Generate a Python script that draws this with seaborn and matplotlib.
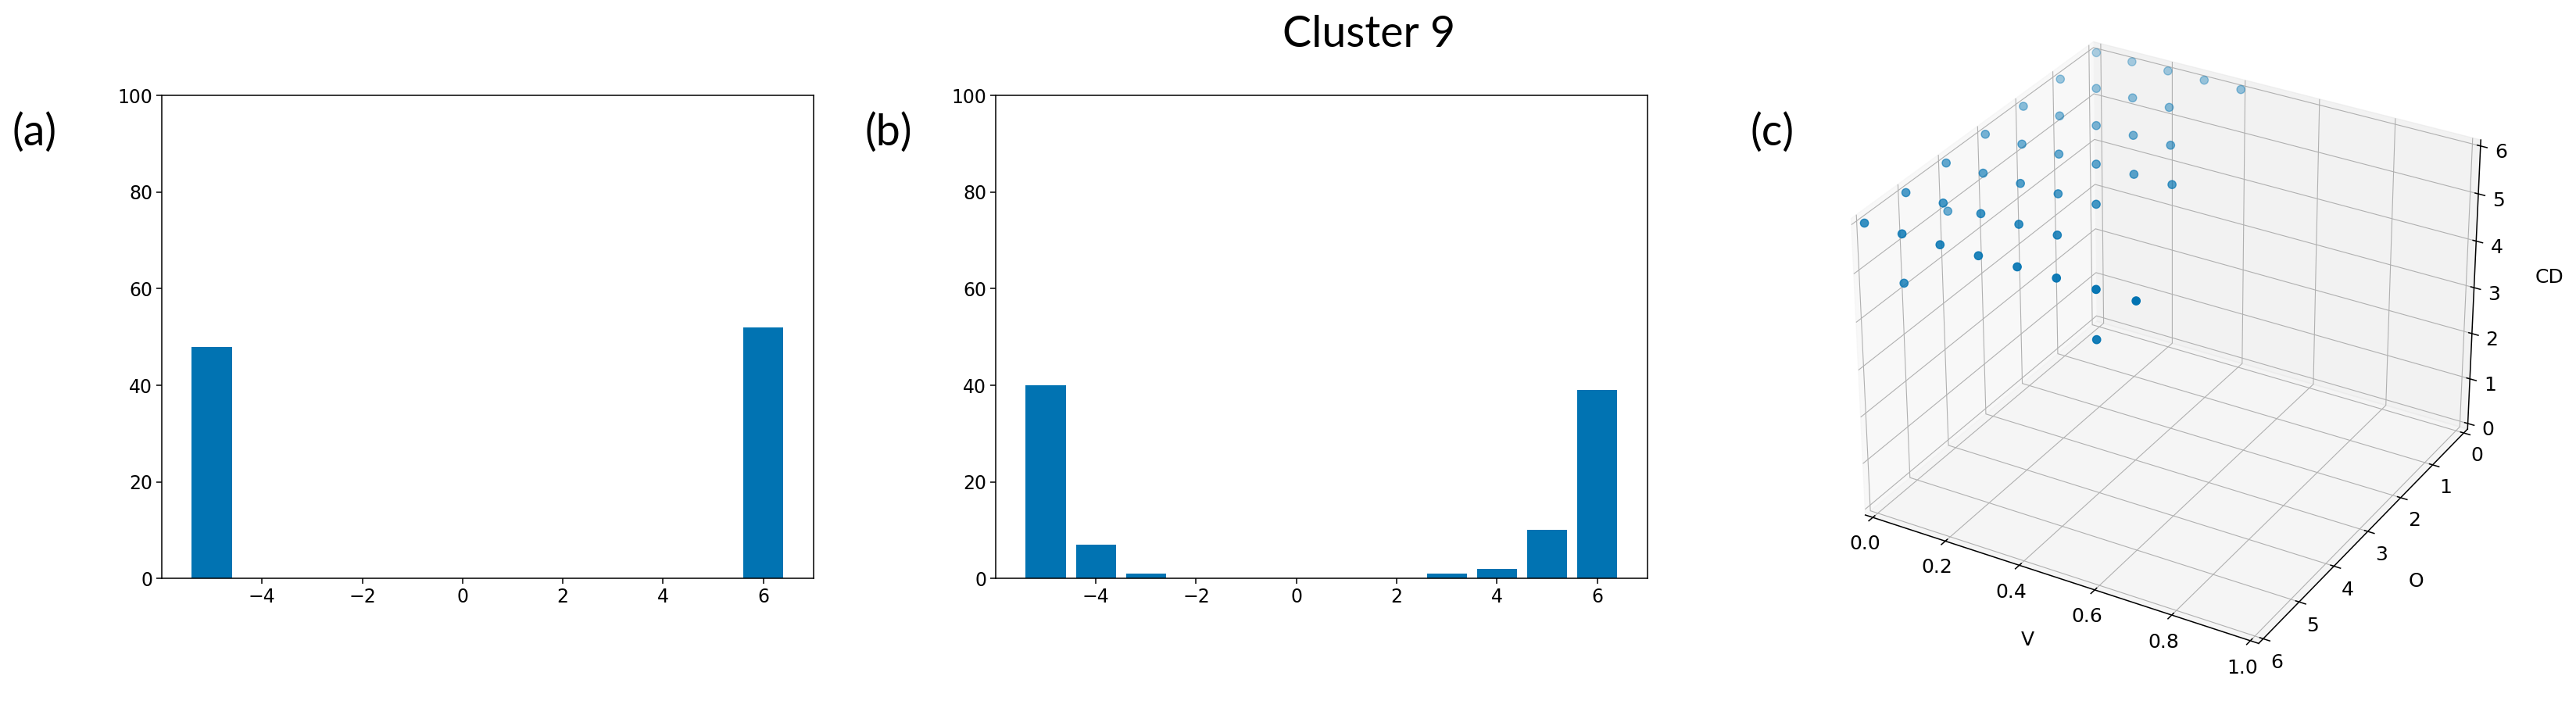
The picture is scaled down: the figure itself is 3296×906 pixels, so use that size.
import numpy as np
import pandas as pd
import seaborn as sns
import matplotlib.pyplot as plt

# value counts for the two histograms
values = [-5, -4, -3, -2, -1, 0, 1, 2, 3, 4, 5, 6]
counts_a = [48, 0, 0, 0, 0, 0, 0, 0, 0, 0, 0, 52]
counts_b = [40, 7, 1, 0, 0, 0, 0, 0, 1, 2, 10, 39]

# cluster 9 points in (V, O, CD)
v_pts = [0.0, 0.1, 0.2, 0.3, 0.4,
         0.0, 0.1, 0.2, 0.3,
         0.0, 0.1, 0.2, 0.3, 0.4,
         0.0, 0.1, 0.2, 0.3, 0.4, 0.5,
         0.0, 0.1, 0.2, 0.3, 0.4,
         0.0, 0.1, 0.2, 0.3, 0.4,
         0.0, 0.1, 0.2, 0.3, 0.4, 0.5, 0.6, 0.7,
         0.0, 0.1, 0.6]
o_pts = [0, 0, 0, 0, 0,
         1, 1, 1, 1,
         2, 2, 2, 2, 2,
         3, 3, 3, 3, 3, 3,
         4, 4, 4, 4, 4,
         5, 5, 5, 5, 5,
         6, 6, 6, 6, 6, 6, 6, 6,
         4, 6, 6]
cd_pts = [6, 6, 6, 6, 6,
          6, 6, 6, 6,
          6, 6, 6, 6, 6,
          6, 6, 6, 6, 6, 6,
          6, 6, 6, 6, 6,
          6, 6, 6, 6, 6,
          6, 6, 6, 6, 6, 6, 6, 6,
          5, 5, 5]

blue = sns.color_palette("colorblind")[0]

plt.rcParams['font.size'] = 17
plt.rcParams['xtick.major.size'] = 5
plt.rcParams['ytick.major.size'] = 5
plt.rcParams['xtick.major.width'] = 1.1
plt.rcParams['ytick.major.width'] = 1.1
plt.rcParams['axes.linewidth'] = 1.1
if 'axes3d.automargin' in plt.rcParams:
    plt.rcParams['axes3d.automargin'] = True

fig = plt.figure(figsize=(32.96, 9.06), dpi=100)

df_a = pd.DataFrame({'value': values, 'count': counts_a})
df_b = pd.DataFrame({'value': values, 'count': counts_b})

# histogram panels
ax_a = fig.add_axes([0.0628, 0.183, 0.253, 0.682])
ax_b = fig.add_axes([0.3865, 0.183, 0.253, 0.682])
for ax, d in [(ax_a, df_a), (ax_b, df_b)]:
    sns.barplot(data=d, x='value', y='count', native_scale=True, color=blue,
                saturation=1, width=0.8, ax=ax)
    ax.set_ylim(0, 100)
    ax.set_xlim(-6.0, 7.0)
    ax.set_xticks([-4, -2, 0, 2, 4, 6])
    ax.set_yticks([0, 20, 40, 60, 80, 100])
    ax.set_xlabel('')
    ax.set_ylabel('')

# 3d scatter panel
ax_c = fig.add_axes([0.7036, 0.0287, 0.2718, 0.989], projection='3d')
ax_c.scatter(v_pts, o_pts, cd_pts, color=blue, s=55)
ax_c.set_xlim(0, 1)
ax_c.set_ylim(6, 0)
ax_c.set_zlim(0, 6)
ax_c.set_xticks([0.0, 0.2, 0.4, 0.6, 0.8, 1.0])
ax_c.set_yticks([0, 1, 2, 3, 4, 5, 6])
ax_c.set_zticks([0, 1, 2, 3, 4, 5, 6])
ax_c.tick_params(labelsize=18)
ax_c.set_xlabel('V', labelpad=20, fontsize=18)
ax_c.set_ylabel('O', labelpad=20, fontsize=18)
ax_c.set_zlabel('CD', labelpad=22, fontsize=18)

lab = dict(family=['Lato', 'DejaVu Sans'], fontsize=40, ha='center', va='center')
fig.text(1752 / 3296, 1 - 44 / 906, 'Cluster 9', **lab)
fig.text(44 / 3296, 1 - 170 / 906, '(a)', **lab)
fig.text(1137 / 3296, 1 - 170 / 906, '(b)', **lab)
fig.text(2268 / 3296, 1 - 170 / 906, '(c)', **lab)

fig.savefig('out.png', dpi=100)
